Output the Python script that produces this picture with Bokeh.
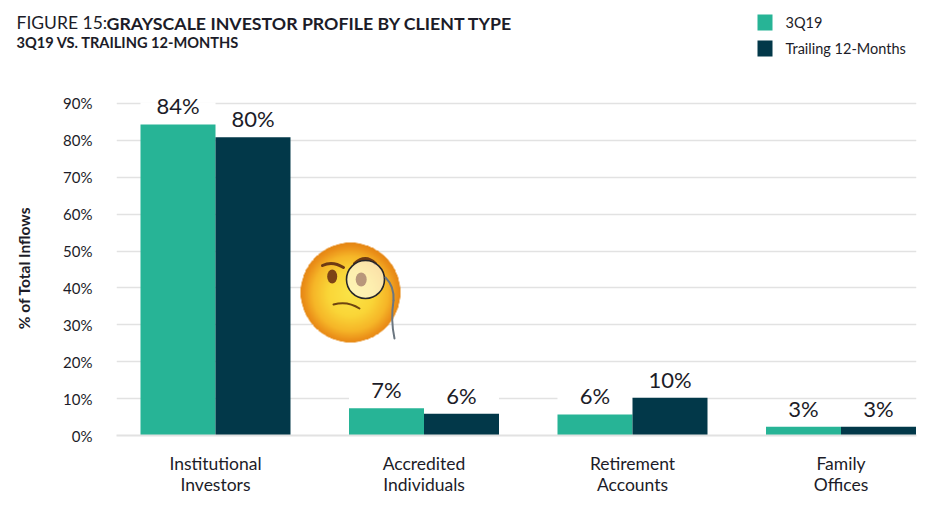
import numpy as np
from bokeh.embed import file_html
from bokeh.resources import INLINE
from bokeh.plotting import figure
from bokeh.layouts import column
from bokeh.models import Range1d, FixedTicker
from bokeh.core.properties import value

categories = ["Institutional\nInvestors", "Accredited\nIndividuals", "Retirement\nAccounts", "Family\nOffices"]
series_3q19 = [84.3, 7.4, 5.7, 2.4]
series_t12m = [80.8, 5.9, 10.2, 2.4]
labels_3q19 = ["84%", "7%", "6%", "3%"]
labels_t12m = ["80%", "6%", "10%", "3%"]
y_ticks = [0, 10, 20, 30, 40, 50, 60, 70, 80, 90]
legend_names = ["3Q19", "Trailing 12-Months"]

TEAL = "#27B496"
DARK = "#023849"
INK = "#1c1c28"
FONT = "Lato"

W = 930
HEAD_H = 66
CHART_H = 439

def X(px): return (np.asarray(px, dtype=float) - 215.0) / 208.5
def Y(py): return (435.0 - np.asarray(py, dtype=float)) / 3.69

# ---- header: title, subtitle, legend (frame spans the strip, range = pixels)
h = figure(width=W, height=HEAD_H, output_backend="svg", toolbar_location=None,
           x_range=Range1d(0, W), y_range=Range1d(HEAD_H, 0),
           min_border=0, x_axis_type=None, y_axis_type=None)
h.outline_line_color = None
h.grid.visible = False

def htext(px, py, text, size, style="normal"):
    h.text(x=[px], y=[py], text=[text], text_font=value(FONT), text_font_size=value(size),
           text_font_style=style, text_color=INK, text_baseline="middle", text_align="left")

htext(16, 22, "FIGURE 15:", "17.5px")
htext(106, 22, "GRAYSCALE INVESTOR PROFILE BY CLIENT TYPE", "17.75px", "bold")
htext(16, 42, "3Q19 VS. TRAILING 12-MONTHS", "14.6px", "bold")

h.quad(left=[757, 757], right=[772, 772], top=[14, 40], bottom=[30, 56],
       fill_color=[TEAL, DARK], line_color=None)
h.text(x=[785, 785], y=[22, 48], text=legend_names, text_font=value(FONT), text_font_size=value("14.5px"),
       text_color=INK, text_baseline="middle", text_align="left")

# ---- chart
p = figure(width=W, height=CHART_H, output_backend="svg", toolbar_location=None,
           x_range=Range1d(float(X(116)), float(X(916))),
           y_range=Range1d(0, float(Y(66))),
           min_border_left=116, min_border_right=14, min_border_top=0, min_border_bottom=70)
p.outline_line_color = None

p.xgrid.visible = False
p.ygrid.grid_line_color = "#e2e2e2"
p.ygrid.grid_line_width = 1.6
p.ygrid.ticker = FixedTicker(ticks=[t for t in y_ticks if t > 0])

p.yaxis.ticker = FixedTicker(ticks=y_ticks)
p.yaxis.major_label_overrides = {t: f"{t}%" for t in y_ticks}
p.yaxis.axis_line_color = None
p.yaxis.major_tick_line_color = None
p.yaxis.minor_tick_line_color = None
p.yaxis.major_label_standoff = 18
p.yaxis.major_label_text_font = FONT
p.yaxis.major_label_text_font_size = "15px"
p.yaxis.major_label_text_color = INK
# trailing no-break spaces lower the rotated title to where the reference has it
p.yaxis.axis_label = "% of Total Inflows" + "\u00a0" * 9
p.yaxis.axis_label_text_font = FONT
p.yaxis.axis_label_text_font_size = "15.5px"
p.yaxis.axis_label_text_font_style = "bold"
p.yaxis.axis_label_text_color = INK
p.yaxis.axis_label_standoff = 27

xs = list(range(len(categories)))
p.xaxis.ticker = FixedTicker(ticks=xs)
p.xaxis.major_label_overrides = dict(zip(xs, categories))
p.xaxis.axis_line_color = "#e2e2e2"
p.xaxis.axis_line_width = 2
p.xaxis.major_tick_line_color = None
p.xaxis.minor_tick_line_color = None
p.xaxis.major_label_standoff = 11
p.xaxis.major_label_text_font = FONT
p.xaxis.major_label_text_font_size = "17.5px"
p.xaxis.major_label_text_color = INK
p.xaxis.major_label_text_line_height = 1.0

BW = 75.0 / 208.5
x1 = [i - BW / 2 for i in xs]
x2 = [i + BW / 2 for i in xs]
MASK = 6.0

p.vbar(x=x1, width=BW, bottom=series_3q19, top=[v + MASK for v in series_3q19], fill_color="white", line_color=None)
p.vbar(x=x2, width=BW, bottom=series_t12m, top=[v + MASK for v in series_t12m], fill_color="white", line_color=None)

p.vbar(x=x1, width=BW, bottom=0, top=series_3q19, fill_color=TEAL, line_color=None)
p.vbar(x=x2, width=BW, bottom=0, top=series_t12m, fill_color=DARK, line_color=None)

p.text(x=x1, y=series_3q19, text=labels_3q19, text_align="center", text_baseline="bottom", y_offset=-5,
       text_font=value(FONT), text_font_size=value("22px"), text_color=INK)
p.text(x=x2, y=series_t12m, text=labels_t12m, text_align="center", text_baseline="bottom", y_offset=-5,
       text_font=value(FONT), text_font_size=value("22px"), text_color=INK)

# Monocle emoji (face gradient + features), positioned in page pixels
N = 240
yy, xx = np.mgrid[0:N, 0:N]
u = (xx + 0.5) / N * 2 - 1
v = (yy + 0.5) / N * 2 - 1
r = np.sqrt(u ** 2 + v ** 2)
t = np.sqrt(u ** 2 + (v + 0.02) ** 2)
stops = [0.0, 0.45, 0.75, 0.92, 1.05]
cols = np.array([[251, 228, 72], [250, 214, 56], [246, 182, 40], [236, 146, 26], [226, 128, 16]], dtype=float)
img = np.zeros((N, N), dtype=np.uint32)
view = img.view(dtype=np.uint8).reshape((N, N, 4))
for c in range(3):
    view[:, :, c] = np.interp(t, stops, cols[:, c]).astype(np.uint8)
view[:, :, 3] = (np.clip((1 - r) * N / 2, 0, 1) * 255).astype(np.uint8)
p.image_rgba(image=[img], x=float(X(300)), y=float(Y(342)), dw=100 / 208.5, dh=100 / 3.69)

def curve(a, c, b, color, width):
    p.quadratic(x0=[float(X(a[0]))], y0=[float(Y(a[1]))], x1=[float(X(b[0]))], y1=[float(Y(b[1]))],
                cx=[float(X(c[0]))], cy=[float(Y(c[1]))], line_color=color, line_width=width, line_cap="round")

def oval(cx, cy, rx, ry, fill, alpha=1.0, line=None, lw=1.0):
    p.ellipse(x=[float(X(cx))], y=[float(Y(cy))], width=2 * rx / 208.5, height=2 * ry / 3.69,
              fill_color=fill, fill_alpha=alpha, line_color=line, line_width=lw)

BROW = "#6e3a14"
curve((322, 265), (332, 260), (343, 267), BROW, 3)
curve((354, 263), (365, 253), (375, 263), BROW, 3)
oval(331.7, 276, 5, 7, "#7d4316")
oval(365, 279, 19, 19, "white", 0.6, "#26262a", 1.6)
oval(360.7, 279, 5.5, 7, "#b8977b")
curve((333, 304), (347, 300), (359, 308), "#6e4410", 2)
curve((385, 277), (394, 286), (393, 300), "#6b7680", 2)
curve((393, 300), (390, 320), (394, 338), "#6b7680", 2)

layout = column(column(h), p, spacing=0)
open("out.html", "w").write(file_html(layout, INLINE))
